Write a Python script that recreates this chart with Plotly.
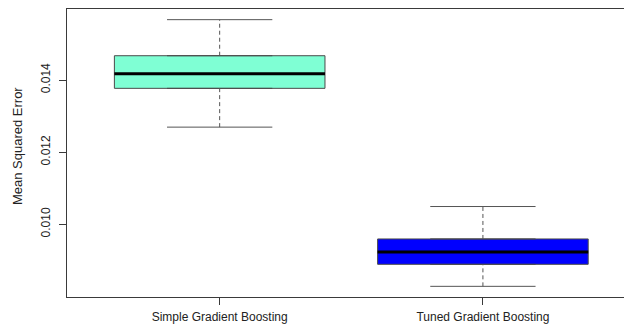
import plotly.graph_objects as go

# Summary statistics of the cross-validated errors for each model
models = ["Simple Gradient Boosting", "Tuned Gradient Boosting"]
lower_whisker = [0.012694, 0.008278]
q1 = [0.013770, 0.008889]
median = [0.014175, 0.009231]
q3 = [0.014675, 0.009592]
upper_whisker = [0.015675, 0.010492]
fill_colors = ["#7FFFD4", "#0000FF"]

y_ticks = [0.010, 0.012, 0.014]
y_title = "Mean Squared Error"

positions = [i + 1 for i in range(len(models))]
box_width = 0.8
cap_half = box_width / 4

axis_color = "#3a3a3a"
font = dict(family="Liberation Sans, Arial, sans-serif", size=12, color="#222222")

fig = go.Figure()

for i, pos in enumerate(positions):
    # dashed whiskers from the hinges to the extremes
    for a, b in ((q3[i], upper_whisker[i]), (lower_whisker[i], q1[i])):
        fig.add_trace(go.Scatter(
            x=[pos, pos], y=[a, b], mode="lines",
            line=dict(color="#555555", width=1, dash="4px,3px"),
            hoverinfo="skip", showlegend=False))
    # whisker caps
    for v in (lower_whisker[i], upper_whisker[i]):
        fig.add_trace(go.Scatter(
            x=[pos - cap_half, pos + cap_half], y=[v, v], mode="lines",
            line=dict(color="#555555", width=1),
            hoverinfo="skip", showlegend=False))
    # interquartile box
    fig.add_trace(go.Box(
        x=[pos], q1=[q1[i]], median=[median[i]], q3=[q3[i]],
        lowerfence=[q1[i]], upperfence=[q3[i]],
        width=box_width, fillcolor=fill_colors[i],
        line=dict(color="#4a4a4a", width=1),
        name=models[i], showlegend=False, boxpoints=False))
    # heavy median bar
    fig.add_trace(go.Scatter(
        x=[pos - box_width / 2, pos + box_width / 2], y=[median[i], median[i]],
        mode="lines", line=dict(color="black", width=3),
        hoverinfo="skip", showlegend=False))

lo = min(lower_whisker)
hi = max(upper_whisker)
pad = 0.04 * (hi - lo)

fig.update_layout(
    width=624, height=326,
    margin=dict(l=67, r=0, t=9, b=29),
    paper_bgcolor="white", plot_bgcolor="white",
    font=font,
    xaxis=dict(
        range=[0.42, 2.536],
        tickmode="array", tickvals=positions, ticktext=models,
        ticks="outside", ticklen=7, tickcolor=axis_color, tickwidth=1,
        ticklabelstandoff=2,
        showline=True, linecolor=axis_color, linewidth=1, mirror=True,
        showgrid=False, zeroline=False,
    ),
    yaxis=dict(
        range=[lo - pad, hi + pad],
        tickmode="array", tickvals=y_ticks,
        ticktext=[f"{v:.3f}" for v in y_ticks],
        tickangle=-90,
        ticks="outside", ticklen=7, tickcolor=axis_color, tickwidth=1,
        ticklabelstandoff=4,
        showline=True, linecolor=axis_color, linewidth=1,
        showgrid=False, zeroline=False,
    ),
    annotations=[dict(
        text=y_title, textangle=-90, showarrow=False,
        xref="paper", yref="paper", x=0, y=0.524,
        xanchor="center", yanchor="middle", xshift=-50,
        font=dict(size=13, color="#222222"),
    )],
)

fig.write_html("out.html")
